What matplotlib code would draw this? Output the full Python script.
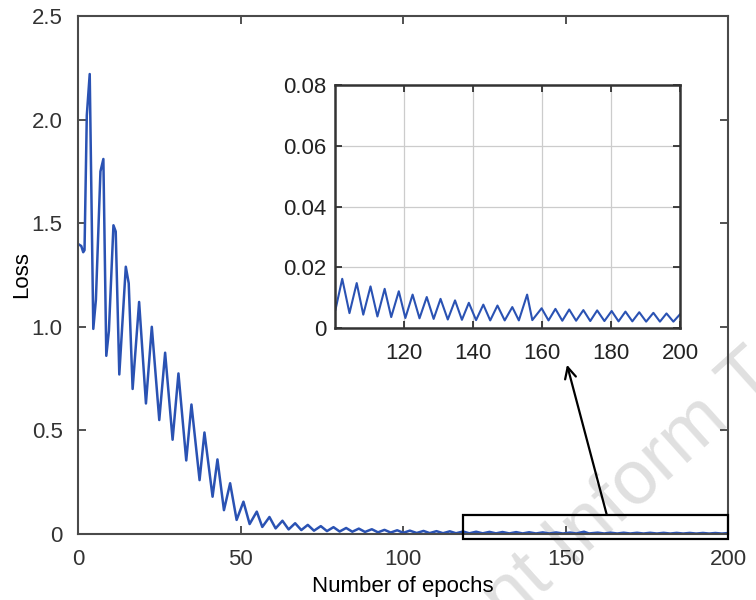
import matplotlib
matplotlib.use("Agg")
import matplotlib.pyplot as plt
from matplotlib.patches import Rectangle

plt.rcParams["font.family"] = ["Liberation Sans", "DejaVu Sans"]

# ---- data (vertices of the loss curve) ----
epochs = [0, 1.0, 1.6, 2.0, 2.7, 3.6, 4.7, 5.5, 6.9, 7.8, 8.7, 9.5, 10.9, 11.6,
          12.7, 14.7, 15.6, 16.8, 18.8, 20.9, 22.7, 25.0, 26.8, 29.1, 30.9,
          33.3, 34.9, 37.4, 38.9, 41.4, 42.9, 44.9, 46.8, 48.8, 50.9, 52.8,
          55.0, 56.7, 58.9, 60.8, 62.9, 64.8, 66.8, 68.7, 70.7, 72.6, 74.7,
          76.6, 78.6, 80.5, 82.5, 84.4, 86.4, 88.3, 90.4, 92.3, 94.3, 96.2,
          98.2, 100.1, 102.1, 104.2, 106.3, 108.2, 110.3, 112.3, 114.4, 116.3,
          118.5, 120.4, 122.5, 124.5, 126.6, 128.6, 130.6, 132.7, 134.8, 136.8,
          138.8, 140.9, 143.0, 145.0, 147.1, 149.2, 151.4, 153.3, 155.7, 157.2,
          159.9, 161.9, 163.9, 165.9, 167.9, 169.9, 172.0, 174.0, 176.0, 178.1,
          180.2, 182.2, 184.2, 186.2, 188.2, 190.2, 192.3, 194.2, 196.1, 198.1,
          200.0]
loss = [1.40, 1.39, 1.36, 1.37, 2.02, 2.22, 0.99, 1.13, 1.75, 1.81, 0.86, 0.98,
        1.49, 1.46, 0.77, 1.29, 1.21, 0.70, 1.12, 0.63, 1.00, 0.55, 0.875, 0.455,
        0.775, 0.355, 0.625, 0.26, 0.49, 0.18, 0.36, 0.115, 0.245, 0.068, 0.156,
        0.048, 0.108, 0.034, 0.082, 0.027, 0.064, 0.022, 0.052, 0.019, 0.044,
        0.016, 0.038, 0.014, 0.033, 0.012, 0.029, 0.011, 0.026, 0.010, 0.023,
        0.008, 0.020, 0.007, 0.018, 0.0058, 0.0162, 0.0049, 0.0148, 0.0044,
        0.0137, 0.0038, 0.0129, 0.0036, 0.0121, 0.0033, 0.0110, 0.0032, 0.0102,
        0.0030, 0.0096, 0.0028, 0.0091, 0.0027, 0.0083, 0.0026, 0.0077, 0.0025,
        0.0074, 0.0025, 0.0069, 0.0025, 0.0110, 0.0026, 0.0065, 0.0025, 0.0063,
        0.0024, 0.0061, 0.0024, 0.0059, 0.0023, 0.0058, 0.0023, 0.0056, 0.0022,
        0.0054, 0.0022, 0.0052, 0.0021, 0.0050, 0.0021, 0.0048, 0.0021, 0.0045]

main_xticks = [0, 50, 100, 150, 200]
main_yticks = [0, 0.5, 1.0, 1.5, 2.0, 2.5]
main_ylabels = ["0", "0.5", "1.0", "1.5", "2.0", "2.5"]
inset_xticks = [120, 140, 160, 180, 200]
inset_yticks = [0, 0.02, 0.04, 0.06, 0.08]
inset_ylabels = ["0", "0.02", "0.04", "0.06", "0.08"]
zoom_box = (118.5, -0.026, 200, 0.092)   # x0, y0, x1, y1 of the marked region

LINE = "#2a52b3"
FS = 16

fig = plt.figure(figsize=(7.56, 6.0), dpi=100)

# faint watermark, under the axes content
fig.text(0.654, -0.018, "nt Inform T", rotation=42, rotation_mode="anchor",
         ha="left", va="center", fontsize=55, color="#e0e0e0", zorder=0.5)

# ---- main axes ----
ax = fig.add_axes([0.1032, 0.11, 0.8598, 0.8633])
ax.set_zorder(1)
ax.patch.set_alpha(0)
ax.plot(epochs, loss, color=LINE, lw=1.8)
ax.set_xlim(0, 200)
ax.set_ylim(0, 2.5)
ax.set_xticks(main_xticks)
ax.set_yticks(main_yticks)
ax.set_yticklabels(main_ylabels)
ax.tick_params(direction="in", length=6, width=1.2, top=True, right=True,
               labelsize=FS, colors="#333333", pad=11)
for s in ax.spines.values():
    s.set_color("#4a4a4a")
    s.set_linewidth(1.5)
ax.set_xlabel("Number of epochs", fontsize=FS, labelpad=4)
ax.set_ylabel("Loss", fontsize=FS, labelpad=0)

x0, y0, x1, y1 = zoom_box
ax.add_patch(Rectangle((x0, y0), x1 - x0, y1 - y0, fill=False, ec="black",
                       lw=1.6, clip_on=False, zorder=5))
ax.annotate("", xy=(0.75, 0.392), xycoords="figure fraction",
            xytext=(162.7, y1), textcoords="data",
            arrowprops=dict(arrowstyle="->", lw=1.6, color="black",
                            shrinkA=0, shrinkB=0, mutation_scale=20))

# ---- inset ----
ins = fig.add_axes([0.4431, 0.4533, 0.4563, 0.405])
ins.set_zorder(2)
ins.plot(epochs, loss, color=LINE, lw=1.5)
ins.set_xlim(100, 200)
ins.set_ylim(0, 0.08)
ins.set_xticks(inset_xticks)
ins.set_yticks(inset_yticks)
ins.set_yticklabels(inset_ylabels)
ins.grid(True, color="#cccccc", lw=0.9)
ins.tick_params(direction="in", length=5, width=1.2, top=True, right=True,
                labelsize=FS, colors="#222222")
ins.tick_params(axis="x", pad=11)
ins.tick_params(axis="y", pad=6)
for s in ins.spines.values():
    s.set_color("#333333")
    s.set_linewidth(1.8)

fig.savefig("out.png", dpi=100)
